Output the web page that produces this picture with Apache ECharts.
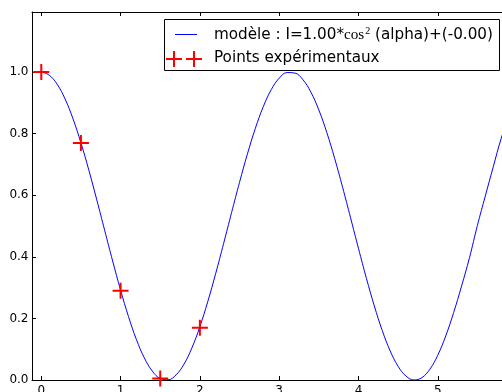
<!DOCTYPE html>
<html>
<head>
<meta charset="utf-8">
<script src="https://cdn.jsdelivr.net/npm/echarts@6/dist/echarts.min.js"></script>
<style>
html,body{margin:0;padding:0;background:#fff;}
#chart{width:502px;height:392px;}
</style>
</head>
<body>
<div id="chart"></div>
<script>
// Model curve: alpha (rad) and intensity
const modelAlpha = [0.0,0.1,0.2,0.3,0.4,0.5,0.6,0.7,0.8,0.9,1.0,1.1,1.2,1.3,1.4,1.5,1.6,1.7,1.8,1.9,2.0,2.1,2.2,2.3,2.4,2.5,2.6,2.7,2.8,2.9,3.0,3.1,3.2,3.3,3.4,3.5,3.6,3.7,3.8,3.9,4.0,4.1,4.2,4.3,4.4,4.5,4.6,4.7,4.8,4.9,5.0,5.1,5.2,5.3,5.4,5.5,5.6,5.7,5.8,5.9];
const modelI = [1.0000,0.9900,0.9605,0.9127,0.8484,0.7702,0.6812,0.5850,0.4854,0.3864,0.2919,0.2058,0.1313,0.0716,0.0289,0.0050,0.0009,0.0166,0.0516,0.1045,0.1732,0.2549,0.3463,0.4439,0.5438,0.6418,0.7343,0.8174,0.8878,0.9428,0.9801,0.9983,0.9966,0.9751,0.9347,0.8770,0.8042,0.7193,0.6256,0.5270,0.4273,0.3304,0.2404,0.1606,0.0944,0.0444,0.0126,0.0000,0.0077,0.0348,0.0805,0.1428,0.2188,0.3049,0.3970,0.5022,0.5979,0.6925,0.7848,0.8603];
// Experimental points
const expAlpha = [0.0, 0.5, 1.0, 1.5, 2.0];
const expI = [1.0, 0.77, 0.29, 0.005, 0.17];
// Tick labels
const xTicks = [0, 1, 2, 3, 4, 5];
const yTicks = [0.0, 0.2, 0.4, 0.6, 0.8, 1.0];
const legendModel = 'modèle : I=1.00*';
const legendModelCos = 'cos';
const legendModelSup = '2';
const legendModelTail = ' (alpha)+(-0.00)';
const legendPoints = 'Points expérimentaux';

const FONT = 'DejaVu Sans';
const chart = echarts.init(document.getElementById('chart'), null, {renderer: 'canvas'});

const plusPath = 'path://M7,0 h2 v16 h-2 z M0,7 h16 v2 h-16 z';

function plusLines(cx, cy, half) {
  return [
    {type: 'line', z: 101, shape: {x1: cx - half, y1: cy, x2: cx + half, y2: cy}, style: {stroke: '#ff0000', lineWidth: 2}},
    {type: 'line', z: 101, shape: {x1: cx, y1: cy - half, x2: cx, y2: cy + half}, style: {stroke: '#ff0000', lineWidth: 2}}
  ];
}

const option = {
  animation: false,
  backgroundColor: '#ffffff',
  grid: {left: 32, top: 12, right: 0, bottom: 12, containLabel: false, outerBoundsMode: 'none'},
  xAxis: [{
    type: 'value', position: 'bottom', min: -0.117, max: 5.81,
    axisLine: {show: true, onZero: false, lineStyle: {color: '#000', width: 1}},
    axisTick: {show: true, inside: true, length: 4, customValues: xTicks, lineStyle: {color: '#000'}},
    axisLabel: {show: true, customValues: xTicks, margin: 5, color: '#000', fontFamily: FONT, fontSize: 12,
      formatter: v => String(v)},
    splitLine: {show: false}
  }, {
    type: 'value', position: 'top', min: -0.117, max: 5.81,
    axisLine: {show: true, onZero: false, lineStyle: {color: '#000', width: 1}},
    axisTick: {show: true, inside: true, length: 4, customValues: xTicks, lineStyle: {color: '#000'}},
    axisLabel: {show: false},
    splitLine: {show: false}
  }],
  yAxis: [{
    type: 'value', position: 'left', min: 0, max: 1.195,
    axisLine: {show: true, onZero: false, lineStyle: {color: '#000', width: 1}},
    axisTick: {show: true, inside: true, length: 4, customValues: yTicks, lineStyle: {color: '#000'}},
    axisLabel: {show: true, customValues: yTicks, margin: 3.5, color: '#000', fontFamily: FONT, fontSize: 12,
      formatter: v => Number(v).toFixed(1)},
    splitLine: {show: false}
  }],
  series: [{
    type: 'line', xAxisIndex: 0, yAxisIndex: 0,
    data: modelAlpha.map((a, i) => [a, modelI[i]]),
    smooth: 0.4, showSymbol: false, symbol: 'none',
    lineStyle: {color: '#0000ff', width: 1},
    clip: true, z: 2
  }, {
    type: 'scatter', xAxisIndex: 0, yAxisIndex: 0,
    data: expAlpha.map((a, i) => [a, expI[i]]),
    symbol: plusPath, symbolSize: 16,
    itemStyle: {color: '#ff0000', opacity: 1},
    clip: false, z: 3
  }],
  graphic: [
    {type: 'rect', z: 100, shape: {x: 164.5, y: 19.5, width: 335, height: 51}, style: {fill: '#fff', stroke: '#000', lineWidth: 1}},
    {type: 'line', z: 101, shape: {x1: 175, y1: 34.5, x2: 197, y2: 34.5}, style: {stroke: '#0000ff', lineWidth: 1}},
    ...plusLines(174, 59, 8),
    ...plusLines(194, 59, 8),
    {type: 'text', z: 101, x: 214, y: 35, style: {
      text: '{a|' + legendModel + '}{c|' + legendModelCos + '}{s|' + legendModelSup + '}{a|' + legendModelTail + '}',
      verticalAlign: 'middle', align: 'left',
      rich: {
        a: {fontFamily: FONT, fontSize: 15.2, lineHeight: 18, fill: '#000'},
        c: {fontFamily: 'Liberation Serif', fontSize: 15.2, lineHeight: 18, fill: '#000'},
        s: {fontFamily: 'Liberation Serif', fontSize: 10, lineHeight: 10, padding: [0, 0, 8, 1], verticalAlign: 'middle', fill: '#000'}
      }
    }},
    {type: 'text', z: 101, x: 214, y: 58, style: {
      text: legendPoints, fontFamily: FONT, fontSize: 15.2, fill: '#000', verticalAlign: 'middle', align: 'left'
    }}
  ]
};
chart.setOption(option);
</script>
</body>
</html>
